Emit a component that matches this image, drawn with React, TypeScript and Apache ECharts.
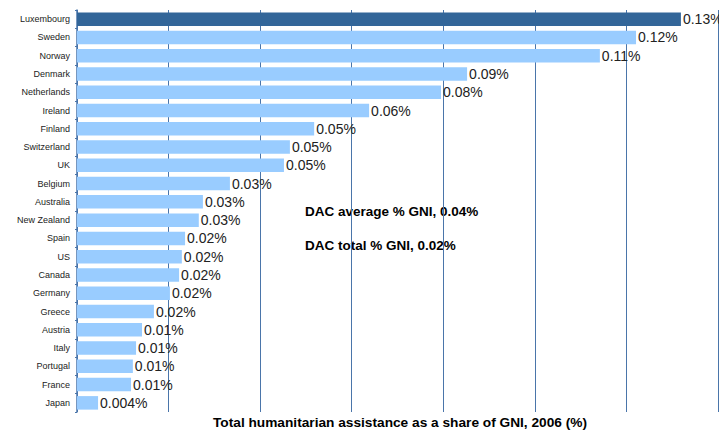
import React, { useEffect, useRef } from "react";
import * as echarts from "echarts";

const categories = [
  "Luxembourg", "Sweden", "Norway", "Denmark", "Netherlands", "Ireland", "Finland",
  "Switzerland", "UK", "Belgium", "Australia", "New Zealand", "Spain", "US", "Canada",
  "Germany", "Greece", "Austria", "Italy", "Portugal", "France", "Japan",
];
const values = [
  0.1319, 0.1221, 0.1142, 0.0852, 0.0795, 0.0638, 0.0518,
  0.0465, 0.0452, 0.0334, 0.0275, 0.0266, 0.0236, 0.0229, 0.0223,
  0.0203, 0.0168, 0.0142, 0.0129, 0.0122, 0.0118, 0.0046,
];
const valueLabels = [
  "0.13%", "0.12%", "0.11%", "0.09%", "0.08%", "0.06%", "0.05%",
  "0.05%", "0.05%", "0.03%", "0.03%", "0.03%", "0.02%", "0.02%", "0.02%",
  "0.02%", "0.02%", "0.01%", "0.01%", "0.01%", "0.01%", "0.004%",
];
const highlighted = "Luxembourg";
const annotations = ["DAC average % GNI, 0.04%", "DAC total % GNI, 0.02%"];
const xTitle = "Total humanitarian assistance as a share of GNI, 2006 (%)";

export default function App() {
  const ref = useRef<HTMLDivElement>(null);
  useEffect(() => {
    if (!ref.current) return;
    const chart = echarts.init(ref.current, null, { renderer: "svg" });
    const font = "Arial, 'Liberation Sans', sans-serif";
    chart.setOption({
      animation: false,
      textStyle: { fontFamily: font },
      grid: { left: 77, top: 10, right: 1, bottom: 20, containLabel: false },
      xAxis: {
        type: "value",
        min: 0,
        max: 0.14,
        interval: 0.02,
        axisLabel: { show: false },
        axisLine: { show: false },
        axisTick: { show: false },
        splitLine: { show: true, lineStyle: { color: "#4a75aa", width: 1 } },
      },
      yAxis: {
        type: "category",
        inverse: true,
        data: categories,
        axisLine: { show: true, lineStyle: { color: "#4a75aa", width: 1.5 } },
        axisTick: { show: true, length: 2, lineStyle: { color: "#4a75aa" } },
        axisLabel: { fontSize: 9, color: "#222", margin: 7, fontFamily: font },
      },
      series: [
        {
          type: "bar",
          barCategoryGap: "26%",
          data: values.map((v, i) => ({
            value: v,
            itemStyle: { color: categories[i] === highlighted ? "#336699" : "#99ccff" },
            label: {
              show: true,
              position: "right",
              distance: 2,
              formatter: valueLabels[i],
              fontSize: 14,
              color: "#222",
              fontFamily: font,
            },
          })),
        },
      ],
      graphic: [
        {
          type: "text",
          left: 305,
          top: 204,
          style: { text: annotations[0], font: `bold 13.5px ${font}`, fill: "#000" },
        },
        {
          type: "text",
          left: 305,
          top: 238,
          style: { text: annotations[1], font: `bold 13.5px ${font}`, fill: "#000" },
        },
        {
          type: "text",
          x: 400,
          y: 422,
          style: {
            text: xTitle,
            font: `bold 13.7px ${font}`,
            fill: "#000",
            textAlign: "center",
            textVerticalAlign: "middle",
          },
        },
      ],
    });
    return () => chart.dispose();
  }, []);
  return (
    <div
      ref={ref}
      style={{ position: "fixed", left: 0, top: 0, width: 719, height: 432, background: "#fff" }}
    />
  );
}
